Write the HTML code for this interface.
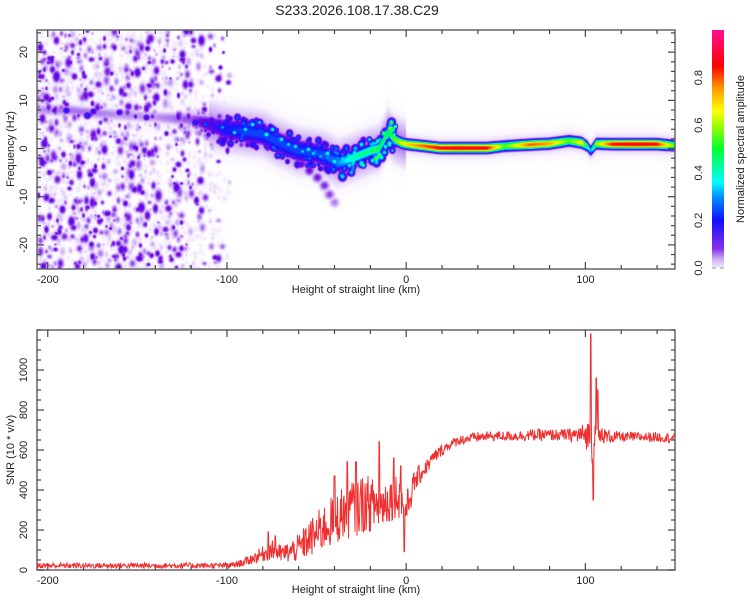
<!DOCTYPE html>
<html><head><meta charset="utf-8">
<style>
html,body{margin:0;padding:0;background:#fff;}
#wrap{position:relative;width:750px;height:600px;overflow:hidden;font-family:"Liberation Sans",sans-serif;}
canvas{position:absolute;left:37px;top:30px;}
svg{position:absolute;left:0;top:0;}
text{font-family:"Liberation Sans",sans-serif;fill:#222;}
</style></head>
<body>
<div id="wrap">
<canvas id="spec" width="638" height="239"></canvas>
<svg id="svg" width="750" height="600">
<defs>
<linearGradient id="cbg" x1="0" y1="1" x2="0" y2="0">
<stop offset="0" stop-color="#f4eefc"/><stop offset="0.04" stop-color="#c8a8f4"/>
<stop offset="0.08" stop-color="#8a30e8"/><stop offset="0.2" stop-color="#1010ff"/>
<stop offset="0.3" stop-color="#0090ff"/><stop offset="0.36" stop-color="#00ffff"/>
<stop offset="0.5" stop-color="#00ff30"/><stop offset="0.6" stop-color="#a0ff00"/>
<stop offset="0.66" stop-color="#ffff00"/><stop offset="0.75" stop-color="#ffa000"/>
<stop offset="0.85" stop-color="#ff0000"/><stop offset="1" stop-color="#ff1090"/>
</linearGradient>
</defs>
<text x="357" y="15" text-anchor="middle" font-size="14">S233.2026.108.17.38.C29</text>
<g id="top-axes"></g>
<g id="bot-axes"></g>
<polyline id="snr-line" fill="none" stroke="#f03030" stroke-width="1"/>
<rect x="712" y="30" width="12" height="238" fill="url(#cbg)"/>
<g id="cb-ticks"></g>
<text transform="translate(744,149) rotate(-90)" text-anchor="middle" font-size="11">Normalized spectral amplitude</text>
<text transform="translate(14,149) rotate(-90)" text-anchor="middle" font-size="11">Frequency (Hz)</text>
<text transform="translate(14,450) rotate(-90)" text-anchor="middle" font-size="11">SNR (10 * v/v)</text>
<text x="356" y="293" text-anchor="middle" font-size="11">Height of straight line (km)</text>
<text x="356" y="593" text-anchor="middle" font-size="11">Height of straight line (km)</text>
</svg>
</div>
<script>
// ---- data ----
const xTicks = [-200, -100, 0, 100];
const freqTicks = [-20, -10, 0, 10, 20];
const snrTicks = [0, 200, 400, 600, 800, 1000];
const cbTicks = ["0.0", "0.2", "0.4", "0.6", "0.8"];
// spectral ridge
const ridgeKm   = [-206,-190,-178,-160,-140,-120,-110,-100,-90,-80,-70,-60,-50,-45,-38,-30,-20,-15,-12,-10,-7,-3,0,10,19,30,45,55,69,80,91,98,101,103,106,115,130,140,150];
const ridgeFreq = [8,8,7.5,7,6.5,6,5,4,3.5,3,1,-0.5,-1,-1.5,-3,-2,-0.5,0,2,3.5,2,1.2,0.9,0.5,0.1,0.1,0.1,0.5,0.8,1,1.6,1.2,0.5,-0.5,1,0.9,0.9,0.9,0.6];
const ridgeAmp  = [0.05,0.06,0.06,0.05,0.05,0.07,0.14,0.2,0.24,0.24,0.24,0.24,0.24,0.26,0.3,0.4,0.45,0.5,0.5,0.5,0.55,0.65,0.7,0.8,0.86,0.88,0.86,0.55,0.8,0.75,0.55,0.7,0.45,0.3,0.6,0.85,0.88,0.85,0.55];
const ridgeWid  = [1.2,1.2,1.2,1.2,1.2,1.4,1.6,1.8,2,2,2,2,1.8,1.8,1.6,1.4,1.2,1.1,1.1,1.1,1,0.95,0.9,0.9,0.9,0.9,0.9,0.9,0.9,0.9,0.9,0.9,0.9,0.9,0.9,0.9,0.9,0.9,0.9];
// ridge blobs (bright spots on the ridge)
const blobKm   = [-190,-178,-175,-160,-145,-118,-112,-103,-96,-90,-86,-82,-78,-75,-70,-66,-62,-58,-55,-52,-48,-44,-40,-36,-32,-24,-18];
const blobFreq = [8,7,7.8,7.5,6.5,5.5,5,4.5,3.5,4,5,5.5,3,4,2,1,0.5,-0.5,0,-1,-1.5,-1,-2.5,-2,-1.5,-1,0];
const blobAmp  = [0.22,0.25,0.2,0.18,0.18,0.25,0.28,0.33,0.38,0.4,0.42,0.36,0.45,0.4,0.42,0.38,0.4,0.36,0.42,0.38,0.35,0.45,0.45,0.38,0.48,0.55,0.6];
// secondary downgoing branch
const branchKm   = [-58,-54,-50,-46,-43,-40];
const branchFreq = [-3,-4.5,-6,-7.5,-9.5,-11];
const branchAmp  = [0.1,0.11,0.1,0.09,0.08,0.06];
// SNR trace
const snrKm   = [-206,-100,-95,-90,-85,-80,-75,-70,-65,-60,-55,-50,-45,-40,-35,-30,-25,-20,-15,-10,-5,0,5,10,15,20,25,30,40,50,60,70,80,90,100,105,110,120,130,140,150];
const snrBase = [22,22,28,40,60,80,100,80,90,110,150,180,220,250,290,310,330,330,320,350,380,300,450,500,560,600,630,650,665,670,670,675,675,675,675,650,670,665,665,665,660];
const snrJit  = [14,14,16,20,30,40,50,45,55,70,90,110,120,130,140,150,150,140,120,120,110,90,60,40,35,30,25,25,25,25,25,30,30,30,60,150,40,25,25,25,25];
const spikeKm  = [-77,-73,-40,-33,-28,-15,-7,-3,-1,103,104.5,106,107];
const spikeVal = [190,170,470,541,540,641,560,520,92,1180,350,960,900];

// ---- scales ----
const X0=37, X1=675, XMIN=-206, XMAX=150;
const xs = k => X0 + (k - XMIN) / (XMAX - XMIN) * (X1 - X0);
const TY0=30, TY1=269, FMIN=-25, FMAX=24.6;
const fy = f => TY1 - (f - FMIN) / (FMAX - FMIN) * (TY1 - TY0);
const BY0=330, BY1=570, SMIN=0, SMAX=1200;
const sy = v => BY1 - (v - SMIN) / (SMAX - SMIN) * (BY1 - BY0);
function interp(xa, ya, x){
  if (x <= xa[0]) return ya[0];
  for (let i=1;i<xa.length;i++){ if (x <= xa[i]) { const t=(x-xa[i-1])/(xa[i]-xa[i-1]); return ya[i-1]+t*(ya[i]-ya[i-1]); } }
  return ya[ya.length-1];
}
// deterministic texture generator (noise speckle only)
let seed = 12345;
function rnd(){ seed = (seed*1103515245 + 12345) & 0x7fffffff; return seed/0x7fffffff; }

// ---- spectrogram ----
const W=638, H=239;
const field = new Float32Array(W*H);
for (let px=0; px<W; px++){
  const km = XMIN + (px+0.5)/W*(XMAX-XMIN);
  const f = interp(ridgeKm, ridgeFreq, km), a = interp(ridgeKm, ridgeAmp, km), w = interp(ridgeKm, ridgeWid, km);
  const haloA = km < -110 ? 0.015 : (km < 0 ? 0.06 : 0.03);
  const haloW = km < 0 ? 4.5 : 2.6;
  for (let py=0; py<H; py++){
    const fr = FMIN + (H-py-0.5)/H*(FMAX-FMIN);
    const d = (fr - f);
    let v = a*Math.exp(-Math.pow(Math.abs(d)/w, 2.5));
    const halo = haloA*Math.exp(-Math.pow(d/haloW,2));
    field[py*W+px] = Math.max(v, halo);
  }
}
function stamp(cx, cy, rx, ry, amp){
  const Rx = Math.ceil(rx*2), Ry=Math.ceil(ry*2);
  for (let dy=-Ry; dy<=Ry; dy++) for (let dx=-Rx; dx<=Rx; dx++){
    const x=Math.round(cx+dx), y=Math.round(cy+dy);
    if (x<0||y<0||x>=W||y>=H) continue;
    const v = amp*Math.exp(-(dx*dx/(rx*rx)+dy*dy/(ry*ry)));
    const i=y*W+x; if (v>field[i]) field[i]=v;
  }
}
for (let i=0;i<branchKm.length;i++) stamp(xs(branchKm[i])-X0, fy(branchFreq[i])-TY0, 5, 5, branchAmp[i]);
// speckle around ridge for x<0
for (let i=0;i<360;i++){
  const km = -125 + rnd()*120;
  const f = interp(ridgeKm, ridgeFreq, km) + (rnd()-0.5)*6;
  const a = interp(ridgeKm, ridgeAmp, km)*(0.25+rnd()*1.0);
  const r = 1.8+rnd()*1.8;
  stamp(xs(km)-X0, fy(f)-TY0, r, r*1.1, a);
}
for (let i=0;i<blobKm.length;i++) stamp(xs(blobKm[i])-X0, fy(blobFreq[i])-TY0, 3.2, 3, blobAmp[i]);
// background noise speckle
for (let i=0;i<2800;i++){
  const km = XMIN + rnd()*(112);
  if (km > -135 && rnd() < (km+135)/40) continue;
  const fr = FMIN + rnd()*(FMAX-FMIN);
  const r3 = rnd();
  const r = 1.5+rnd()*2.2;
  stamp(xs(km)-X0, fy(fr)-TY0, r, r*(0.8+rnd()*0.9), 0.018 + Math.pow(r3,5)*0.13);
}
const stops=[[0,[255,255,255]],[0.012,[250,246,254]],[0.025,[228,212,250]],[0.045,[200,165,244]],[0.07,[150,80,234]],[0.1,[115,10,225]],[0.2,[20,20,255]],[0.3,[0,144,255]],[0.36,[0,255,255]],[0.5,[0,255,48]],[0.6,[160,255,0]],[0.66,[255,255,0]],[0.75,[255,160,0]],[0.85,[255,0,0]],[1,[255,16,144]]];
function cmap(v){
  if (v<=0) return stops[0][1];
  for (let i=1;i<stops.length;i++) if (v<=stops[i][0]){
    const t=(v-stops[i-1][0])/(stops[i][0]-stops[i-1][0]), a=stops[i-1][1], b=stops[i][1];
    return [a[0]+t*(b[0]-a[0]),a[1]+t*(b[1]-a[1]),a[2]+t*(b[2]-a[2])];
  }
  return stops[stops.length-1][1];
}
const ctx = document.getElementById('spec').getContext('2d');
const img = ctx.createImageData(W,H);
for (let i=0;i<W*H;i++){ const c=cmap(field[i]); img.data[i*4]=c[0]; img.data[i*4+1]=c[1]; img.data[i*4+2]=c[2]; img.data[i*4+3]=255; }
ctx.putImageData(img,0,0);

// ---- SNR line ----
const pts=[];
for (let px=X0; px<=X1; px+=0.5){
  const km = XMIN + (px-X0)/(X1-X0)*(XMAX-XMIN);
  let v = interp(snrKm, snrBase, km) + (rnd()-0.5)*2*interp(snrKm, snrJit, km);
  for (let j=0;j<spikeKm.length;j++) if (Math.abs(km-spikeKm[j])<0.3) v = spikeVal[j];
  v = Math.max(2, Math.min(SMAX, v));
  pts.push(px.toFixed(1)+','+sy(v).toFixed(1));
}
document.getElementById('snr-line').setAttribute('points', pts.join(' '));

// ---- axes ----
const NS='http://www.w3.org/2000/svg';
function el(tag, attrs, parent){ const e=document.createElementNS(NS,tag); for (const k in attrs) e.setAttribute(k, attrs[k]); parent.appendChild(e); return e; }
function drawAxes(gid, y0, y1, yScale, yMajor, yMinorStep, yMin, yMax, yLabels){
  const g = document.getElementById(gid);
  const fr = el('rect',{x:X0,y:y0,width:X1-X0,height:y1-y0,fill:'none',stroke:'#666','stroke-width':1.5},g);
  
  
  for (let k=-200;k<=XMAX;k+=20){
    const x=xs(k), len = (k%100===0)?7:4;
    el('line',{x1:x,x2:x,y1:y1,y2:y1-len,stroke:'#444','stroke-width':1.2},g);
    el('line',{x1:x,x2:x,y1:y0,y2:y0+len,stroke:'#444','stroke-width':1.2},g);
  }
  xTicks.forEach(k=>{
    const t=el('text',{x:xs(k),y:y1+14,'text-anchor':'middle','font-size':11},g);
    t.textContent = String(k);
    
    
  });
  for (let v=Math.ceil(yMin/yMinorStep)*yMinorStep; v<=yMax; v+=yMinorStep){
    const y=yScale(v), major = yMajor.includes(v);
    const len = major?7:4;
    el('line',{x1:X0,x2:X0+len,y1:y,y2:y,stroke:'#444','stroke-width':1.2},g);
    el('line',{x1:X1,x2:X1-len,y1:y,y2:y,stroke:'#444','stroke-width':1.2},g);
  }
  yLabels.forEach(v=>{
    const t=el('text',{transform:`translate(${X0-10},${yScale(v)}) rotate(-90)`,'text-anchor':'middle','font-size':11},g);
    t.textContent = String(v);
    
    
  });
}
drawAxes('top-axes', TY0, TY1, fy, freqTicks, 2, -24, 24, freqTicks);
drawAxes('bot-axes', BY0, BY1, sy, snrTicks, 50, 0, 1200, snrTicks);
const cbg = document.getElementById('cb-ticks');
cbTicks.forEach(s=>{
  const v=parseFloat(s), y = 268 - v*238;
  const t=el('text',{transform:`translate(${702},${y}) rotate(-90)`,'text-anchor':'middle','font-size':11},cbg);
  t.textContent = s;
  
  
});
el('line',{x1:712,x2:716,y1:268,y2:268,stroke:'#999'},cbg);
el('line',{x1:720,x2:724,y1:268,y2:268,stroke:'#999'},cbg);
</script>
</body></html>
